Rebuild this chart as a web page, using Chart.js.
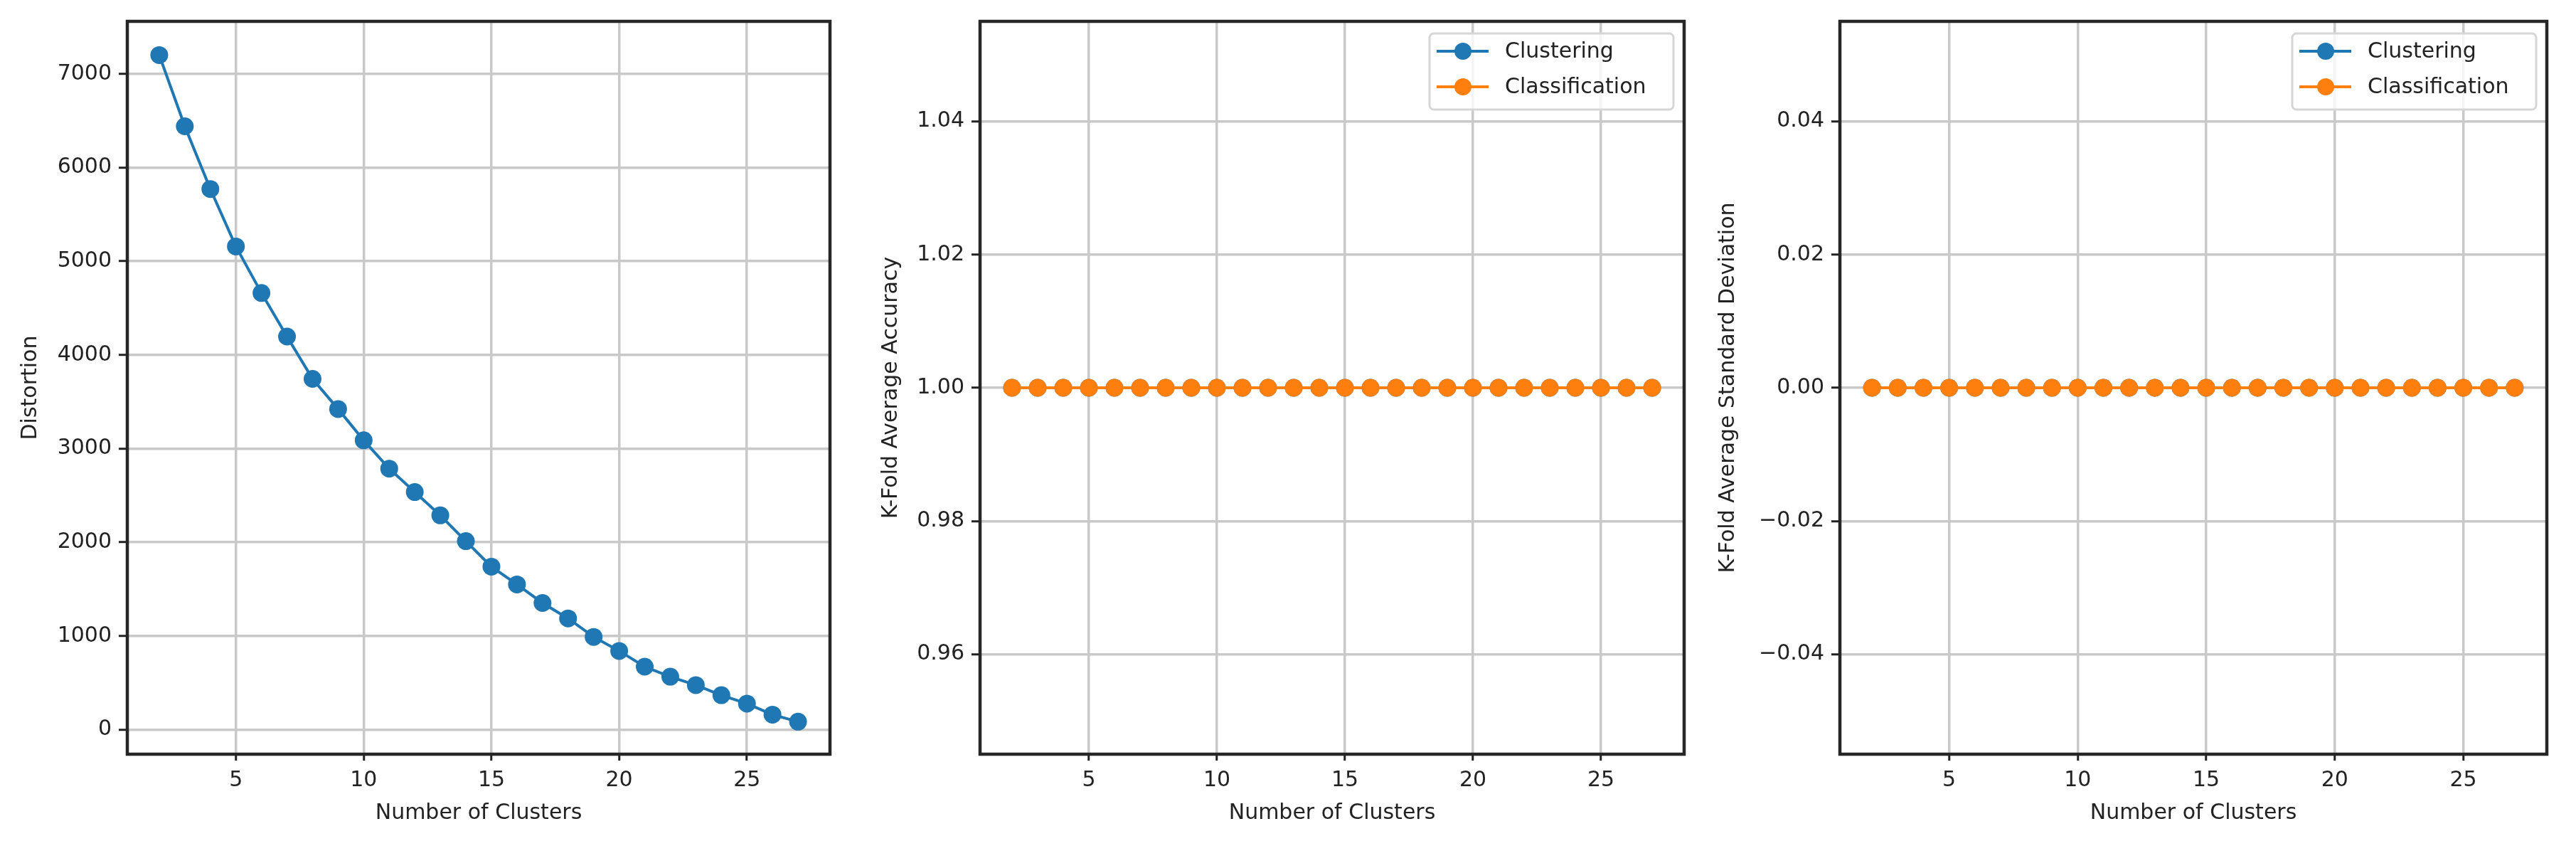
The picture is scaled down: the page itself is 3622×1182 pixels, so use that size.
<!DOCTYPE html>
<html>
<head>
<meta charset="utf-8">
<script src="https://cdn.jsdelivr.net/npm/chart.js@4.4.1/dist/chart.umd.min.js"></script>
<style>
  html, body { margin: 0; padding: 0; background: #fff; }
  body { width: 3622px; height: 1182px; position: relative; overflow: hidden; }
  canvas { position: absolute; top: 0; }
</style>
</head>
<body>
<canvas id="c1" style="left:0px"></canvas>
<canvas id="c2" style="left:1200px"></canvas>
<canvas id="c3" style="left:2400px"></canvas>
<script>
// --- data ---
const clusters = [2, 3, 4, 5, 6, 7, 8, 9, 10, 11, 12, 13, 14, 15, 16, 17, 18, 19, 20, 21, 22, 23, 24, 25, 26, 27];
const distortion = [7200, 6440, 5770, 5157, 4660, 4196, 3744, 3422, 3088, 2786, 2536, 2287, 2012, 1740, 1550, 1352, 1187, 990, 840, 672, 565, 475, 368, 278, 160, 85];

const accClustering = [1, 1, 1, 1, 1, 1, 1, 1, 1, 1, 1, 1, 1, 1, 1, 1, 1, 1, 1, 1, 1, 1, 1, 1, 1, 1];
const accClassification = [1, 1, 1, 1, 1, 1, 1, 1, 1, 1, 1, 1, 1, 1, 1, 1, 1, 1, 1, 1, 1, 1, 1, 1, 1, 1];
const stdClustering = [0, 0, 0, 0, 0, 0, 0, 0, 0, 0, 0, 0, 0, 0, 0, 0, 0, 0, 0, 0, 0, 0, 0, 0, 0, 0];
const stdClassification = [0, 0, 0, 0, 0, 0, 0, 0, 0, 0, 0, 0, 0, 0, 0, 0, 0, 0, 0, 0, 0, 0, 0, 0, 0, 0];

const xTicks = [5, 10, 15, 20, 25];
const yTicksDist = [0, 1000, 2000, 3000, 4000, 5000, 6000, 7000];
const yTicksAcc = [0.96, 0.98, 1.00, 1.02, 1.04];
const yTicksStd = [-0.04, -0.02, 0.00, 0.02, 0.04];

const seriesNames = ['Clustering', 'Classification'];
const blue = '#1f77b4';
const orange = '#ff7f0e';

// --- styling ---
const FONT = { family: "'DejaVu Sans', sans-serif", size: 30 };
const TEXT = '#222';
const GRID = '#c9c9c9';

Chart.defaults.font.family = FONT.family;
Chart.defaults.font.size = FONT.size;
Chart.defaults.color = TEXT;

function pts(ys) {
    return clusters.map((k, i) => ({ x: k, y: ys[i] }));
}

// "order": higher number is drawn first (underneath), like matplotlib plot order
function lineSet(label, ys, color, order) {
    return {
        label: label,
        data: pts(ys),
        order: order,
        borderColor: color,
        backgroundColor: color,
        borderWidth: 4,
        pointRadius: 12.5,
        pointBorderWidth: 0,
        pointBackgroundColor: color,
        tension: 0
    };
}

// black box around the axes
const frame = {
    id: 'frame',
    afterDatasetsDraw(chart) {
        const { ctx, chartArea: a } = chart;
        ctx.save();
        ctx.strokeStyle = '#262626';
        ctx.lineWidth = 4.5;
        ctx.strokeRect(a.left, a.top, a.right - a.left, a.bottom - a.top);
        ctx.restore();
    }
};

// matplotlib-style legend in the upper right corner
const boxLegend = {
    id: 'boxLegend',
    afterDraw(chart, args, opts) {
        if (!opts.show) return;
        const { ctx, chartArea: a } = chart;
        const w = 343, h = 107;
        const x = a.right - 15 - w;
        const y = a.top + 17;
        ctx.save();
        ctx.beginPath();
        ctx.roundRect(x, y, w, h, 6);
        ctx.fillStyle = 'rgba(255,255,255,0.8)';
        ctx.fill();
        ctx.strokeStyle = '#d6d6d6';
        ctx.lineWidth = 3;
        ctx.stroke();
        chart.data.datasets.forEach((ds, i) => {
            const cy = y + 25 + i * 50;
            ctx.strokeStyle = ds.borderColor;
            ctx.lineWidth = 4;
            ctx.beginPath();
            ctx.moveTo(x + 10, cy);
            ctx.lineTo(x + 83, cy);
            ctx.stroke();
            ctx.fillStyle = ds.borderColor;
            ctx.beginPath();
            ctx.arc(x + 47, cy, 12, 0, Math.PI * 2);
            ctx.fill();
            ctx.fillStyle = TEXT;
            ctx.font = FONT.size + 'px ' + FONT.family;
            ctx.textAlign = 'left';
            ctx.textBaseline = 'middle';
            ctx.fillText(ds.label, x + 106, cy + 1);
        });
        ctx.restore();
    }
};

function makePanel(id, cfg) {
    const el = document.getElementById(id);
    el.width = cfg.width;
    el.height = 1182;
    el.style.width = cfg.width + 'px';
    el.style.height = '1182px';

    return new Chart(el, {
        type: 'line',
        data: { datasets: cfg.datasets },
        plugins: [frame, boxLegend],
        options: {
            responsive: false,
            animation: false,
            devicePixelRatio: 1,
            layout: { padding: { top: 30, right: cfg.padRight, bottom: 0, left: 0 } },
            plugins: {
                legend: { display: false },
                tooltip: { enabled: false },
                boxLegend: { show: cfg.legend }
            },
            scales: {
                x: {
                    type: 'linear',
                    min: 0.75,
                    max: 28.25,
                    afterBuildTicks: s => { s.ticks = xTicks.map(v => ({ value: v })); },
                    afterFit: s => { s.height = 122; },
                    ticks: { padding: 10, color: TEXT, maxRotation: 0, callback: v => String(v) },
                    grid: { color: GRID, lineWidth: 3.5, tickColor: '#222', tickWidth: 3, tickLength: 9 },
                    border: { display: false },
                    title: { display: true, text: 'Number of Clusters', color: TEXT, padding: { top: 0, bottom: 21 } }
                },
                y: {
                    type: 'linear',
                    min: cfg.yMin,
                    max: cfg.yMax,
                    afterBuildTicks: s => { s.ticks = cfg.yTicks.map(v => ({ value: v })); },
                    afterFit: s => { s.width = cfg.yWidth; },
                    ticks: { padding: 10, color: TEXT, callback: cfg.fmt },
                    grid: { color: GRID, lineWidth: 3.5, tickColor: '#222', tickWidth: 3, tickLength: 12 },
                    border: { display: false },
                    title: { display: true, text: cfg.yTitle, color: TEXT, padding: { top: cfg.titlePad, bottom: 0 } }
                }
            }
        }
    });
}

makePanel('c1', {
    width: 1200, padRight: 33, yWidth: 179, titlePad: 25,
    yMin: -262, yMax: 7560, yTicks: yTicksDist, yTitle: 'Distortion',
    fmt: v => String(v), legend: false,
    datasets: [lineSet('Distortion', distortion, blue, 1)]
});

makePanel('c2', {
    width: 1200, padRight: 32, yWidth: 178, titlePad: 35,
    yMin: 0.945, yMax: 1.055, yTicks: yTicksAcc, yTitle: 'K-Fold Average Accuracy',
    fmt: v => v.toFixed(2), legend: true,
    datasets: [
        lineSet(seriesNames[0], accClustering, blue, 2),
        lineSet(seriesNames[1], accClassification, orange, 1)
    ]
});

makePanel('c3', {
    width: 1222, padRight: 41, yWidth: 187, titlePad: 12,
    yMin: -0.055, yMax: 0.055, yTicks: yTicksStd, yTitle: 'K-Fold Average Standard Deviation',
    fmt: v => (v < 0 ? '\u2212' : '') + Math.abs(v).toFixed(2), legend: true,
    datasets: [
        lineSet(seriesNames[0], stdClustering, blue, 2),
        lineSet(seriesNames[1], stdClassification, orange, 1)
    ]
});
</script>
</body>
</html>
